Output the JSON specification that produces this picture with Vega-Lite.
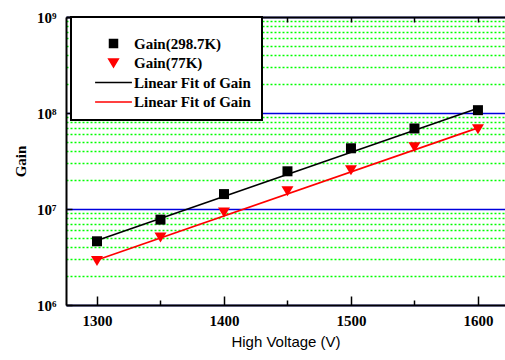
{
  "$schema": "https://vega.github.io/schema/vega-lite/v6.json",
  "width": 439,
  "height": 288,
  "autosize": {"type": "none"},
  "padding": {"left": 66, "top": 17, "right": 0, "bottom": 55},
  "background": "white",
  "config": {"view": {"stroke": null}, "font": "Liberation Serif"},
  "datasets": {
    "pts": [
      {"series": "Gain(298.7K)", "voltage": 1300, "gain": 4610000},
      {"series": "Gain(298.7K)", "voltage": 1350, "gain": 7750000},
      {"series": "Gain(298.7K)", "voltage": 1400, "gain": 14300000},
      {"series": "Gain(298.7K)", "voltage": 1450, "gain": 24700000},
      {"series": "Gain(298.7K)", "voltage": 1500, "gain": 42900000},
      {"series": "Gain(298.7K)", "voltage": 1550, "gain": 69000000},
      {"series": "Gain(298.7K)", "voltage": 1600, "gain": 107000000},
      {"series": "Gain(77K)", "voltage": 1300, "gain": 2880000},
      {"series": "Gain(77K)", "voltage": 1350, "gain": 5040000},
      {"series": "Gain(77K)", "voltage": 1400, "gain": 9200000},
      {"series": "Gain(77K)", "voltage": 1450, "gain": 15300000},
      {"series": "Gain(77K)", "voltage": 1500, "gain": 25300000},
      {"series": "Gain(77K)", "voltage": 1550, "gain": 44000000},
      {"series": "Gain(77K)", "voltage": 1600, "gain": 67700000}
    ],
    "fit": [
      {"series": "Fit298", "voltage": 1300, "gain": 4700000},
      {"series": "Fit298", "voltage": 1600, "gain": 112000000},
      {"series": "Fit77", "voltage": 1300, "gain": 2950000},
      {"series": "Fit77", "voltage": 1600, "gain": 70000000}
    ]
  },
  "layer": [
    {
      "data": {"name": "fit"},
      "mark": {"type": "line", "strokeWidth": 1.6},
      "encoding": {
        "x": {
          "field": "voltage", "type": "quantitative",
          "scale": {"domain": [1275.6, 1621.3], "nice": false, "zero": false},
          "axis": {
            "orient": "bottom", "values": [1300, 1400, 1500, 1600], "format": "d",
            "title": "High Voltage (V)", "titleFont": "Liberation Sans", "titleFontSize": 15,
            "titleFontWeight": "normal", "titleColor": "black", "titlePadding": 6,
            "labelFont": "Liberation Serif", "labelFontSize": 15, "labelFontWeight": "bold",
            "labelColor": "black", "labelPadding": 17,
            "tickSize": -9, "tickColor": "black", "tickWidth": 1.5,
            "domainColor": "black", "domainWidth": 2, "grid": false
          }
        },
        "y": {
          "field": "gain", "type": "quantitative",
          "scale": {"type": "log", "domain": [1000000, 1000000000], "nice": false},
          "axis": {
            "orient": "left", "values": [1000000, 10000000, 100000000, 1000000000],
            "labelExpr": "datum.value >= 1e9 ? '10⁹' : datum.value >= 1e8 ? '10⁸' : datum.value >= 1e7 ? '10⁷' : '10⁶'",
            "labelFont": "Liberation Serif", "labelFontSize": 15, "labelFontWeight": "bold",
            "labelColor": "black", "labelPadding": 16,
            "tickSize": -6, "tickColor": "black", "tickWidth": 1.5,
            "domainColor": "black", "domainWidth": 2,
            "grid": true, "gridColor": "#0000dd", "gridWidth": 1.5,
            "title": "Gain", "titleFont": "Liberation Serif", "titleFontSize": 15,
            "titleFontWeight": "bold", "titleColor": "black", "titlePadding": 8
          }
        },
        "color": {
          "field": "series", "type": "nominal",
          "scale": {"domain": ["Gain(298.7K)", "Gain(77K)", "Fit298", "Fit77"], "range": ["black", "red", "black", "red"]},
          "legend": {
            "title": " ", "titleFontSize": 6, "titlePadding": 3,
            "orient": "none", "legendX": 5, "legendY": 0,
            "fillColor": "white", "strokeColor": "black", "padding": 10,
            "symbolOffset": 25, "labelOffset": 13, "symbolSize": 64, "rowPadding": 3.5,
            "labelFont": "Liberation Serif", "labelFontSize": 15, "labelFontWeight": "bold", "labelColor": "black",
            "labelExpr": "(datum.label === 'Fit298' || datum.label === 'Fit77') ? 'Linear Fit of Gain' : datum.label",
            "encode": {
              "legend": {"update": {"strokeWidth": {"value": 2}}},
              "symbols": {"update": {"stroke": {"scale": "color", "field": "value"}, "strokeWidth": {"value": 1.5}}}
            }
          }
        }
      }
    },
    {
      "data": {"name": "pts"},
      "transform": [{"filter": "datum.series === 'Gain(298.7K)'"}],
      "mark": {"type": "point", "filled": true, "opacity": 1, "size": 100, "strokeWidth": 0},
      "encoding": {
        "x": {
          "field": "voltage", "type": "quantitative",
          "axis": {"orient": "bottom", "values": [1350, 1450, 1550], "labels": false, "domain": false,
                   "tickSize": -5, "tickColor": "black", "tickWidth": 1.5, "grid": false, "title": null}
        },
        "y": {
          "field": "gain", "type": "quantitative",
          "axis": {
            "orient": "left",
            "values": [2000000, 3000000, 4000000, 5000000, 6000000, 7000000, 8000000, 9000000,
                       20000000, 30000000, 40000000, 50000000, 60000000, 70000000, 80000000, 90000000,
                       200000000, 300000000, 400000000, 500000000, 600000000, 700000000, 800000000, 900000000],
            "labels": false, "ticks": false, "domain": false, "title": null,
            "grid": true, "gridColor": "#00ff00", "gridDash": [2, 2], "gridWidth": 1.5
          }
        },
        "color": {"field": "series", "type": "nominal"},
        "shape": {
          "field": "series", "type": "nominal",
          "scale": {"domain": ["Gain(298.7K)", "Gain(77K)", "Fit298", "Fit77"],
                    "range": ["M-1,-1H1V1H-1Z", "M-1.2,-1L1.2,-1L0,1Z", "M-4.6,0H4.6", "M-4.6,0H4.6"]}
        }
      }
    },
    {
      "data": {"name": "pts"},
      "transform": [{"filter": "datum.series === 'Gain(77K)'"}],
      "mark": {"type": "point", "filled": true, "opacity": 1, "size": 100, "strokeWidth": 0},
      "encoding": {
        "x": {
          "field": "voltage", "type": "quantitative",
          "axis": {"orient": "top", "values": [1300, 1350, 1400, 1450, 1500, 1550, 1600], "labels": false,
                   "domainColor": "black", "domainWidth": 2,
                   "tickSize": -5, "tickColor": "black", "tickWidth": 1.5, "grid": false, "title": null}
        },
        "y": {"field": "gain", "type": "quantitative", "axis": null},
        "color": {"field": "series", "type": "nominal"},
        "shape": {"field": "series", "type": "nominal"}
      }
    }
  ],
  "resolve": {"axis": {"x": "independent", "y": "independent"}}
}
